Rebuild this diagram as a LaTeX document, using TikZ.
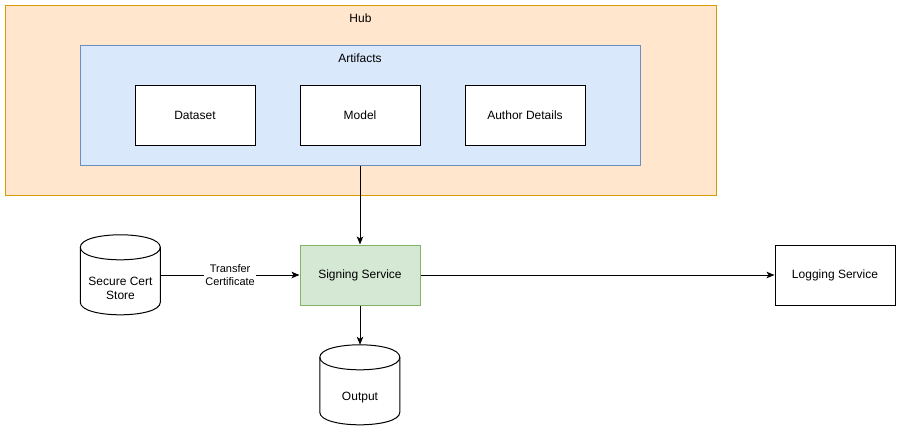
\documentclass[tikz,border=0pt]{standalone}
\usepackage{fontspec}
\setmainfont{Liberation Sans}
\usetikzlibrary{arrows.meta}
\definecolor{hubfill}{HTML}{FFE6CC}
\definecolor{hubdraw}{HTML}{D79B00}
\definecolor{artfill}{HTML}{DAE8FC}
\definecolor{artdraw}{HTML}{6C8EBF}
\definecolor{sigfill}{HTML}{D5E8D4}
\definecolor{sigdraw}{HTML}{82B366}
\newcommand{\mycyl}[1]{%
  \begin{scope}[shift={(#1.north west)}]
    \draw[line width=1pt,fill=white] (0,12.5) .. controls (0,-4.1667) and (80,-4.1667) .. (80,12.5) -- (80,67.5) .. controls (80,84.1667) and (0,84.1667) .. (0,67.5) -- cycle;
    \draw[line width=1pt] (0,12.5) .. controls (0,29.1667) and (80,29.1667) .. (80,12.5);
  \end{scope}}
\begin{document}
\begin{tikzpicture}[x=1pt,y=-1pt,
  every node/.style={font=\fontsize{12}{14}\selectfont},
  box/.style={draw,line width=1pt,fill=white,minimum width=120pt,minimum height=60pt,inner sep=0pt,align=center},
  cylbox/.style={minimum width=80pt,minimum height=80pt,inner sep=0pt,draw=none},
  txt/.style={inner sep=0pt,align=center},
  arr/.style={line width=1pt,-{Stealth[length=8pt,width=6.5pt,inset=2pt]}},
  elabel/.style={fill=white,inner sep=1pt,align=center,font=\fontsize{11}{12.5}\selectfont}]
\useasboundingbox (0,0) rectangle (901,431);
% Hub
\node[draw=hubdraw,fill=hubfill,line width=1pt,minimum width=711pt,minimum height=190pt,inner sep=0pt] (hub) at (360.5,100) {};
\node[txt] (hubtext) at (360.5,18) {Hub};
% Artifacts
\node[draw=artdraw,fill=artfill,line width=1pt,minimum width=560pt,minimum height=120pt,inner sep=0pt] (art) at (360,105) {};
\node[txt] (arttext) at (360,58) {Artifacts};
\node[box] (dataset) at (195,115) {Dataset};
\node[box] (model) at (360,115) {Model};
\node[box] (author) at (525,115) {Author Details};
% Services
\node[box,draw=sigdraw,fill=sigfill] (sign) at (360,275) {Signing Service};
\node[box] (log) at (835,275.5) {Logging Service};
% Cylinders
\node[cylbox] (cert) at (120.5,275) {};
\mycyl{cert}
\node[txt] (certtext) at (120.5,288) {Secure Cert\\Store};
\node[cylbox] (out) at (360,385) {};
\mycyl{out}
\node[txt] (outtext) at (360,397.5) {Output};
% Connectors
\draw[arr] (art.south) -- (sign.north);
\draw[arr] (cert.east) -- node[elabel] (tlabel) {Transfer\\Certificate} (sign.west);
\draw[arr] (sign.east) -- (log.west |- sign.east);
\draw[arr] (sign.south) -- (out.north);
\end{tikzpicture}
\end{document}
